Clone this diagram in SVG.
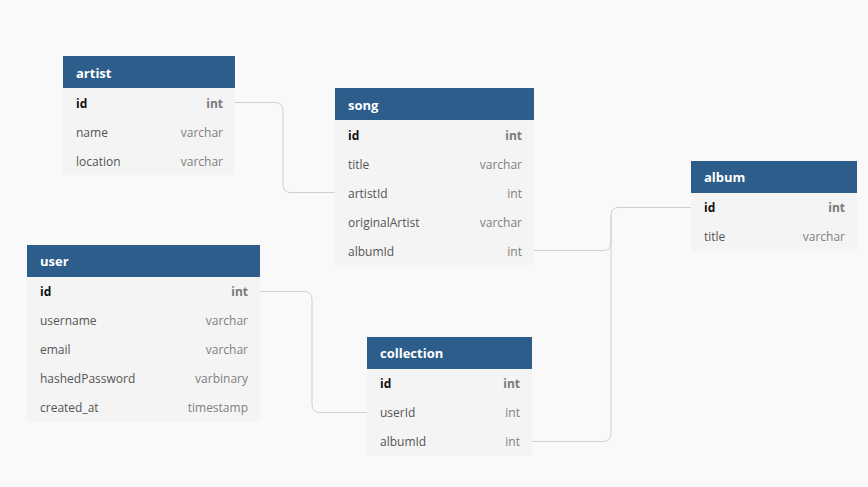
<svg xmlns="http://www.w3.org/2000/svg" width="868" height="487" viewBox="0 0 868 487">
<style>
.bg{fill:#f9f9f9}
.hd{fill:#2c5d8b}
.bd{fill:#f4f4f4}
.ht{font-family:"Open Sans",sans-serif;font-size:13px;font-weight:bold;fill:#ffffff}
.fn{font-family:"Open Sans",sans-serif;font-size:12px;fill:#555555}
.ft{font-family:"Open Sans",sans-serif;font-size:12px;fill:#808080;text-anchor:end}
.pk{font-weight:bold;fill:#111111}
.pt{font-weight:bold;fill:#7a7a7a}
.cn{fill:none;stroke:#cfcfcf;stroke-width:1}
</style>
<rect class="bg" x="0" y="0" width="868" height="487"/>
<g id="connectors">
<path class="cn" d="M235,102.5 H275 Q283,102.5 283,110.5 V184.5 Q283,192.5 291,192.5 H335"/>
<path class="cn" d="M534,250.5 H603 Q611,250.5 611,242.5 V215.5 Q611,207.5 619,207.5 H691"/>
<path class="cn" d="M532,441.5 H603 Q611,441.5 611,433.5 V215.5"/>
<path class="cn" d="M260,291.5 H304 Q312,291.5 312,299.5 V404.5 Q312,412.5 320,412.5 H367"/>
</g>
<g id="artist">
<rect class="bd" x="63" y="56" width="172" height="119"/>
<rect class="hd" x="63" y="56" width="172" height="32"/>
<text class="ht" x="76" y="78">artist</text>
<text class="fn pk" x="76" y="108">id</text><text class="ft pt" x="223" y="108">int</text>
<text class="fn" x="76" y="137">name</text><text class="ft" x="223" y="137">varchar</text>
<text class="fn" x="76" y="166">location</text><text class="ft" x="223" y="166">varchar</text>
</g>
<g id="song">
<rect class="bd" x="335" y="88" width="199" height="177"/>
<rect class="hd" x="335" y="88" width="199" height="32"/>
<text class="ht" x="348" y="110">song</text>
<text class="fn pk" x="348" y="140">id</text><text class="ft pt" x="522" y="140">int</text>
<text class="fn" x="348" y="169">title</text><text class="ft" x="522" y="169">varchar</text>
<text class="fn" x="348" y="198">artistId</text><text class="ft" x="522" y="198">int</text>
<text class="fn" x="348" y="227">originalArtist</text><text class="ft" x="522" y="227">varchar</text>
<text class="fn" x="348" y="256">albumId</text><text class="ft" x="522" y="256">int</text>
</g>
<g id="album">
<rect class="bd" x="691" y="161" width="166" height="90"/>
<rect class="hd" x="691" y="161" width="166" height="32"/>
<text class="ht" x="704" y="182">album</text>
<text class="fn pk" x="704" y="212">id</text><text class="ft pt" x="845" y="212">int</text>
<text class="fn" x="704" y="241">title</text><text class="ft" x="845" y="241">varchar</text>
</g>
<g id="user">
<rect class="bd" x="27" y="245" width="233" height="177"/>
<rect class="hd" x="27" y="245" width="233" height="32"/>
<text class="ht" x="40" y="266">user</text>
<text class="fn pk" x="40" y="296">id</text><text class="ft pt" x="248" y="296">int</text>
<text class="fn" x="40" y="325">username</text><text class="ft" x="248" y="325">varchar</text>
<text class="fn" x="40" y="354">email</text><text class="ft" x="248" y="354">varchar</text>
<text class="fn" x="40" y="383">hashedPassword</text><text class="ft" x="248" y="383">varbinary</text>
<text class="fn" x="40" y="412">created_at</text><text class="ft" x="248" y="412">timestamp</text>
</g>
<g id="collection">
<rect class="bd" x="367" y="337" width="165" height="119"/>
<rect class="hd" x="367" y="337" width="165" height="32"/>
<text class="ht" x="380" y="358">collection</text>
<text class="fn pk" x="380" y="388">id</text><text class="ft pt" x="520" y="388">int</text>
<text class="fn" x="380" y="417">userId</text><text class="ft" x="520" y="417">int</text>
<text class="fn" x="380" y="446">albumId</text><text class="ft" x="520" y="446">int</text>
</g>
</svg>
